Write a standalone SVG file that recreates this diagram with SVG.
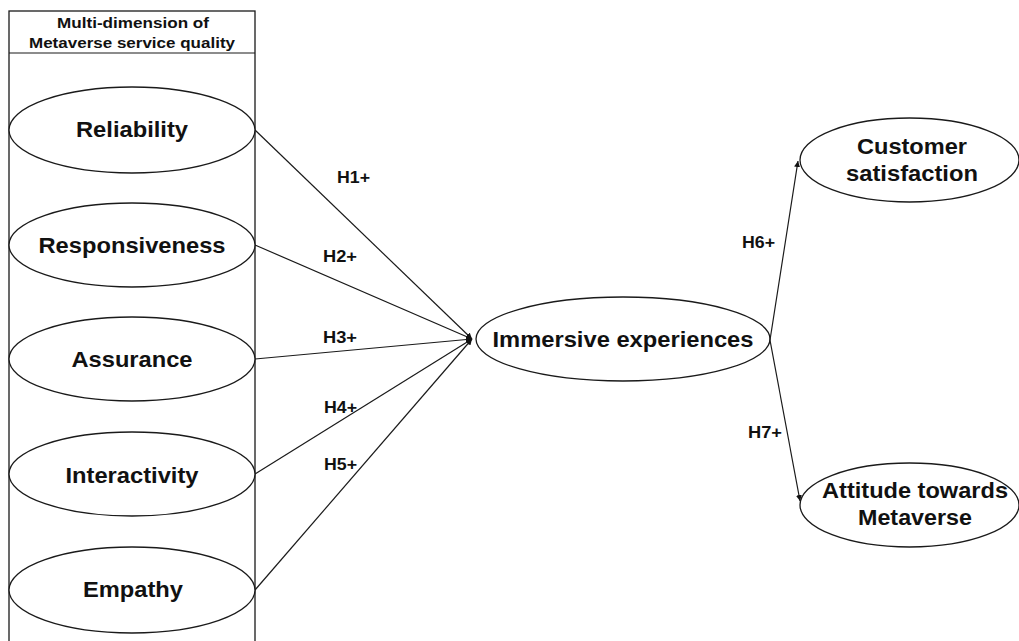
<svg xmlns="http://www.w3.org/2000/svg" width="1019" height="641" viewBox="0 0 1019 641">
  <style>
    .shape { fill: #ffffff; stroke: #1a1a1a; stroke-width: 1.3; }
    .lbl { font-family: "Liberation Sans", Arial, sans-serif; font-weight: bold; fill: #111111; text-anchor: middle; }
    .big { font-size: 22px; }
    .head { font-size: 15px; }
    .hyp { font-size: 16px; text-anchor: start; }
    .edge { fill: none; stroke: #1a1a1a; stroke-width: 1.2; }
  </style>
  <defs>
    <marker id="tip" viewBox="0 0 10 10" refX="10" refY="5" markerWidth="6" markerHeight="6" markerUnits="userSpaceOnUse" orient="auto">
      <path d="M0,0 L10,5 L0,10 Z" fill="#111111"/>
    </marker>
  </defs>
  <rect width="1019" height="641" fill="#ffffff"/>

  <!-- container of service quality dimensions -->
  <g id="service-quality">
    <rect class="shape" x="9" y="11" width="246" height="640"/>
    <line class="edge" x1="9" y1="53" x2="255" y2="53"/>
    <text class="lbl head" x="133" y="28" textLength="152" lengthAdjust="spacingAndGlyphs">Multi-dimension of</text>
    <text class="lbl head" x="132" y="48" textLength="206" lengthAdjust="spacingAndGlyphs">Metaverse service quality</text>
  </g>

  <g id="reliability">
    <ellipse class="shape" cx="132" cy="130" rx="123" ry="43"/>
    <text class="lbl big" x="132" y="137" textLength="112" lengthAdjust="spacingAndGlyphs">Reliability</text>
  </g>
  <g id="responsiveness">
    <ellipse class="shape" cx="132" cy="245" rx="123" ry="42"/>
    <text class="lbl big" x="132" y="253" textLength="187" lengthAdjust="spacingAndGlyphs">Responsiveness</text>
  </g>
  <g id="assurance">
    <ellipse class="shape" cx="132" cy="359" rx="123" ry="42"/>
    <text class="lbl big" x="132" y="367" textLength="121" lengthAdjust="spacingAndGlyphs">Assurance</text>
  </g>
  <g id="interactivity">
    <ellipse class="shape" cx="132" cy="474" rx="123" ry="42"/>
    <text class="lbl big" x="132" y="483" textLength="133" lengthAdjust="spacingAndGlyphs">Interactivity</text>
  </g>
  <g id="empathy">
    <ellipse class="shape" cx="132" cy="590" rx="123" ry="43"/>
    <text class="lbl big" x="133" y="597" textLength="100" lengthAdjust="spacingAndGlyphs">Empathy</text>
  </g>

  <g id="immersive">
    <ellipse class="shape" cx="623" cy="339" rx="147" ry="42"/>
    <text class="lbl big" x="623" y="347" textLength="261" lengthAdjust="spacingAndGlyphs">Immersive experiences</text>
  </g>

  <g id="satisfaction">
    <ellipse class="shape" cx="909.5" cy="160" rx="109.5" ry="42"/>
    <text class="lbl big" x="912" y="154" textLength="110" lengthAdjust="spacingAndGlyphs">Customer</text>
    <text class="lbl big" x="912" y="181" textLength="132" lengthAdjust="spacingAndGlyphs">satisfaction</text>
  </g>

  <g id="attitude">
    <ellipse class="shape" cx="909.5" cy="505" rx="109.5" ry="42"/>
    <text class="lbl big" x="915" y="498" textLength="186" lengthAdjust="spacingAndGlyphs">Attitude towards</text>
    <text class="lbl big" x="915" y="525" textLength="114" lengthAdjust="spacingAndGlyphs">Metaverse</text>
  </g>

  <!-- hypothesised paths -->
  <g id="connectors">
    <line class="edge" x1="255" y1="130" x2="472" y2="339" marker-end="url(#tip)"/>
    <line class="edge" x1="255" y1="245" x2="472" y2="339" marker-end="url(#tip)"/>
    <line class="edge" x1="255" y1="359" x2="472" y2="339" marker-end="url(#tip)"/>
    <line class="edge" x1="255" y1="474" x2="472" y2="339" marker-end="url(#tip)"/>
    <line class="edge" x1="255" y1="590" x2="472" y2="339" marker-end="url(#tip)"/>
    <line class="edge" x1="770" y1="340" x2="798" y2="161" marker-end="url(#tip)"/>
    <line class="edge" x1="770" y1="340" x2="800" y2="501" marker-end="url(#tip)"/>
    <text class="lbl hyp" x="337" y="183" textLength="33" lengthAdjust="spacingAndGlyphs">H1+</text>
    <text class="lbl hyp" x="323" y="262" textLength="34" lengthAdjust="spacingAndGlyphs">H2+</text>
    <text class="lbl hyp" x="323" y="343" textLength="34" lengthAdjust="spacingAndGlyphs">H3+</text>
    <text class="lbl hyp" x="324" y="413" textLength="33" lengthAdjust="spacingAndGlyphs">H4+</text>
    <text class="lbl hyp" x="324" y="470" textLength="33" lengthAdjust="spacingAndGlyphs">H5+</text>
    <text class="lbl hyp" x="742" y="248" textLength="33" lengthAdjust="spacingAndGlyphs">H6+</text>
    <text class="lbl hyp" x="748" y="438" textLength="34" lengthAdjust="spacingAndGlyphs">H7+</text>
  </g>
</svg>
